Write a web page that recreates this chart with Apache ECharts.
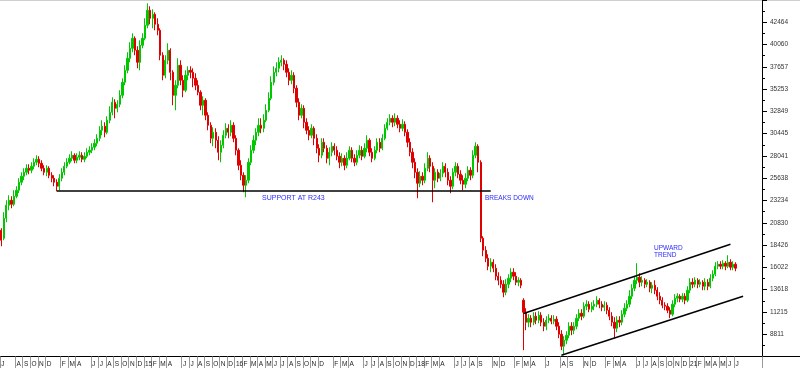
<!DOCTYPE html>
<html><head><meta charset="utf-8">
<script src="https://cdn.jsdelivr.net/npm/echarts@6/dist/echarts.min.js"></script>
<style>html,body{margin:0;padding:0;background:#fff}#c{width:800px;height:368px}</style>
</head><body><div id="c"></div>
<script>
// Month labels, Jun 2013 .. Jul 2021 ('' = month not labelled on the axis)
const monthLabels = [
 'J','','A','S','O','N','D',
 '','F','M','A','','J','J','A','S','O','N','D',
 '15','F','M','A','','J','J','A','S','O','N','D',
 '16','F','M','A','M','J','J','A','S','O','N','D',
 '','F','M','A','','J','J','A','S','O','N','D',
 '18','F','M','A','','J','J','A','S','','N','D',
 '','F','M','A','','J','','A','S','','N','D',
 '','F','M','A','','J','J','A','S','O','N','D',
 '21','F','M','A','M','J','J'
];
const yTickLabels = [8811,11215,13618,16022,18426,20830,23234,25638,28041,30445,32849,35253,37657,40060,42464];

// candles: [open, close, low, high] (cents), three per month
const c2013 = [[20029,18951,18303,20244],[19165,21323,18951,21971],[21323,22725,20892,23265],[22725,23265,22187,23804],[23265,22833,22401,23696],[22833,23696,22617,24344],[23696,24344,23480,24774],[24344,25206,24020,25637],[25206,25853,24882,26285],[25853,26285,25422,26715],[26285,26715,25961,27147],[26715,26501,26069,27147],[26501,26931,26177,27363],[26931,27363,26607,27794],[27363,27686,27039,28118],[27686,27255,26823,28010],[27255,26715,26393,27579],[26715,26285,25961,27039],[26285,26715,25853,27039],[26715,25961,25637,26931],[25961,25637,25206,26285]];
const c2014 = [[25637,25206,24774,25961],[25206,24774,24236,25529],[24774,25637,24344,26069],[25637,26285,25314,26715],[26285,26931,25961,27363],[26931,27363,26715,27794],[27363,27794,27147,28226],[27794,28118,27471,28550],[28118,27579,27255,28334],[27579,27902,27255,28334],[27902,28118,27579,28550],[28118,27686,27363,28442],[27686,28010,27363,28442],[28010,28442,27794,28873],[28442,28658,28118,29089],[28658,28981,28334,29413],[28981,29413,28658,29843],[29413,29951,29089,30383],[29951,30815,29629,31246],[30815,31246,30275,31894],[31246,30599,30059,31678],[30599,31894,30383,32324],[31894,32756,31570,33403],[32756,33835,32432,34374],[33835,33187,32108,34158],[33187,33619,32756,34051],[33619,34590,33295,35130],[34590,35992,34266,36423],[35992,37287,35668,37825],[37287,38580,36963,39228],[38580,39659,38149,40307],[39659,40737,39228,41277],[40737,39444,38904,40953],[39444,38149,37501,39875],[38149,39983,37287,40523],[39983,40737,39659,41277]];
const c2015 = [[40737,42140,40523,42894],[42140,43758,41816,44513],[43758,42894,42248,44189],[42894,43326,41816,43865],[43326,42248,41601,43542],[42248,41601,41061,42894],[41601,38904,38365,41816],[38904,36747,36208,39228],[36747,38365,36423,38904],[38365,39444,37933,40199],[39444,37071,36208,39659],[37071,34590,33511,37287],[34590,35668,32972,36208],[35668,37825,35344,38580],[37825,36208,35668,38365],[36208,35130,34374,36747],[35130,36747,34914,37287],[36747,37287,36208,37717],[37287,37071,36423,37717],[37071,36423,35452,37501],[36423,35668,35130,36963],[35668,34914,34590,36208],[34914,33511,32972,35130],[33511,34051,32432,34482],[34051,32432,31894,34266],[32432,31354,30815,32756],[31354,29951,29413,31678],[29951,30599,29089,31138],[30599,29737,28873,31030],[29737,28442,27579,30167],[28442,29197,27363,29737],[29197,30275,28873,30815],[30275,31030,29951,31570],[31030,30599,29951,31462],[30599,31354,30167,31894],[31354,29951,29521,31678]];
const c2016 = [[29951,28658,28118,30275],[28658,27039,26501,28873],[27039,25961,25422,27579],[25961,24882,24128,26285],[24882,25422,23588,25961],[25422,27363,25098,27794],[27363,28658,27039,29197],[28658,29737,28334,30275],[29737,30599,29197,31030],[30599,31354,30167,32108],[31354,31030,30491,32108],[31030,31894,30599,32540],[31894,32972,31678,33619],[32972,34266,32756,34914],[34266,35992,34051,36639],[35992,37071,35668,37717],[37071,37501,36639,38149],[37501,38149,37071,38688],[38149,38365,37717,38904],[38365,37933,37287,38580],[37933,37071,36531,38365],[37071,36208,35668,37501],[36208,36747,35776,37287],[36747,35344,34806,37071],[35344,33835,33295,35668],[33835,32432,31894,34266],[32432,33187,32108,33619],[33187,31678,31030,33511],[31678,30815,30383,32108],[30815,30275,29737,31246],[30275,31030,29951,31462],[31030,29951,29197,31246],[29951,28873,28334,30383],[28873,28118,27363,29305],[28118,29521,27794,29951],[29521,28873,28442,29951]];
const c2017 = [[28873,27794,27255,29197],[27794,28442,27039,28981],[28442,29089,28010,29521],[29089,28658,28118,29413],[28658,28010,27579,29089],[28010,27363,26715,28442],[27363,27794,26931,28334],[27794,27039,26501,28118],[27039,27794,26715,28442],[27794,28658,27579,29089],[28658,27794,27363,28981],[27794,27363,26931,28226],[27363,28118,27039,28658],[28118,28658,27794,29197],[28658,28010,27579,29089],[28010,28873,27794,29413],[28873,29737,28442,30275],[29737,28442,28010,29951],[28442,27794,27363,28873],[27794,28658,27579,29089],[28658,29521,28334,29951],[29521,28873,28442,29951],[28873,29951,28658,30383],[29951,31030,29737,31462],[31030,31678,30815,32108],[31678,32108,31354,32540],[32108,31678,31138,32432],[31678,32108,31246,32648],[32108,31462,31030,32432],[31462,31030,30599,31894],[31030,31462,30707,32000],[31462,30599,30167,31786],[30599,29521,28981,30922],[29521,28442,28010,29951],[28442,27363,26715,28873],[27363,26285,25637,27794]];
const c2018 = [[26285,25098,23480,26715],[25098,25853,24666,26393],[25853,25422,24882,26285],[25422,26715,25098,27255],[26715,27794,26393,28442],[27794,26931,26285,28118],[26931,25422,23049,27363],[25422,26285,24558,26715],[26285,25637,25206,26607],[25637,26177,25314,26607],[26177,26931,25745,27363],[26931,26285,25745,27255],[26285,25422,24882,26715],[25422,24774,24020,25853],[24774,26285,24450,26715],[26285,26931,25853,27363],[26931,26069,25637,27255],[26069,25422,24990,26501],[25422,24990,24344,25961],[24990,25637,24558,26177],[25637,26501,25314,26931],[26501,25961,25422,26823],[25961,28118,25637,28658],[28118,29089,27794,29521],[29089,27363,26285,29305],[27363,19167,18735,27579],[19167,17872,17224,19381],[17872,17008,16578,18303],[17008,16146,15715,17440],[16146,16578,15499,17008],[16578,15930,15499,16900],[15930,15067,14636,16362],[15067,14636,14096,15499],[14636,14204,13772,15067],[14204,13342,12802,14636],[13342,14204,13018,14743]];
const c2019 = [[14204,14851,13772,15283],[14851,15499,14420,15930],[15499,15067,14636,15930],[15067,14420,14096,15499],[14420,14636,13988,14959],[14636,14096,13772,14851],[12479,11185,7086,12694],[11185,10106,9243,11615],[10106,10537,9566,10969],[10537,10106,9566,10861],[10106,10753,9782,11185],[10753,10322,9890,11185],[10322,10861,9998,11293],[10861,10106,9674,11185],[10106,9674,9135,10537],[9674,10322,9243,10753],[10322,10537,9998,10969],[10537,10214,9890,10861],[10214,10429,9890,10861],[10429,9674,9243,10753],[9674,8811,8379,10106],[8811,7517,7086,9243],[7517,8165,6547,8595],[8165,8703,7733,9135],[8703,9674,8379,10106],[9674,9243,8703,10106],[9243,9674,8811,10106],[9674,10537,9350,10969],[10537,11077,10214,11508],[11077,10753,10322,11508],[10753,11831,10537,12263],[11831,12047,11401,12479],[12047,11508,11185,12371],[11508,11831,11185,12263],[11831,12047,11401,12479],[12047,12479,11723,12910]];
const c2020 = [[12479,12047,11615,12694],[12047,11723,11293,12371],[11723,11939,11293,12371],[11939,11401,10969,12263],[11401,10753,10322,11723],[10753,10106,9674,11185],[10106,9458,8379,10645],[9458,10322,9027,10753],[10322,10106,9566,10753],[10106,10969,9782,11401],[10969,11615,10645,12155],[11615,12047,11293,12479],[12047,12910,11723,13558],[12910,13772,12586,14204],[13772,14636,13450,15067],[14636,14959,14204,16470],[14959,14420,13880,15391],[14420,14636,13988,15067],[14636,14204,13772,14851],[14204,14420,13880,14743],[14420,13772,13342,14636],[13772,14096,13234,14420],[14096,13558,13126,14636],[13558,12910,12479,13880],[12910,12479,12047,13342],[12479,11939,11615,12802],[11939,11831,11401,12263],[11831,11401,11077,12155],[11401,10969,10537,11723],[10969,12047,10753,12479],[12047,12694,11723,13126],[12694,12910,12263,13234],[12910,12586,12263,13126],[12586,12910,12263,13234],[12910,12479,12047,13234],[12479,13558,12263,13988]];
const c2021 = [[13558,14420,13234,14851],[14420,14204,13772,14851],[14204,14636,13880,14959],[14636,14204,13772,14851],[14204,14420,13880,14743],[14420,13988,13558,14636],[13988,14420,13558,14851],[14420,13988,13558,14743],[13988,14851,13772,15283],[14851,15283,14528,15715],[15283,16146,15067,16578],[16146,16362,15822,16686],[16362,16146,15822,16686],[16146,16470,15822,16794],[16470,16146,15715,16686],[16146,16578,15930,17333],[16578,16038,15715,16900],[16038,16362,15715,16686],[16362,15930,15607,16578]];

// drawn trend lines: [categoryIndex, price] end points
const supportLine = [[22,24300],[194,24300]];
const channelUpper = [[207,11044],[289,18519]];
const channelLower = [[222,6547],[294,12910]];

const SLOTS = 3, PAD = 8;
const categories = [];
monthLabels.forEach((_, m) => { for (let s = 0; s < SLOTS; s++) categories.push(m + '-' + s); });
for (let k = 0; k < PAD; k++) categories.push('pad' + k);
const ohlc = [].concat(c2013, c2014, c2015, c2016, c2017, c2018, c2019, c2020, c2021);

const yStep = (yTickLabels[yTickLabels.length - 1] - yTickLabels[0]) / (yTickLabels.length - 1);
const yMin = yTickLabels[0] - yStep;
const yMax = yMin + (yTickLabels.length + 1) * yStep;

const monthOf = v => { const p = String(v).split('-'); return p.length === 2 ? +p[0] : -1; };
const isLabelled = (idx) => idx % SLOTS === 0 && idx < monthLabels.length * SLOTS && monthLabels[idx / SLOTS] !== '';
const FONT = '"Liberation Sans", Arial, sans-serif';
const seg = s => [{ coord: [categories[s[0][0]], s[0][1]] }, { coord: [categories[s[1][0]], s[1][1]] }];

const chart = echarts.init(document.getElementById('c'), null, { renderer: 'canvas' });
chart.setOption({
  animation: false,
  backgroundColor: '#fff',
  grid: { left: 0, right: 38, top: 0, height: 356.5, containLabel: false, outerBoundsMode: 'none' },
  xAxis: {
    type: 'category', data: categories, boundaryGap: true,
    axisLine: { show: true, lineStyle: { color: '#000', width: 1 } },
    axisTick: { show: true, interval: (i) => isLabelled(i), length: 12, lineStyle: { color: '#999', width: 1 } },
    axisLabel: { interval: (i) => isLabelled(i), formatter: v => { const m = monthOf(v); return m >= 0 ? monthLabels[m] : ''; },
      fontSize: 6.5, color: '#222', fontFamily: FONT, align: 'left', margin: 4 },
    splitLine: { show: false }
  },
  yAxis: {
    type: 'value', position: 'right', min: yMin, max: yMax, interval: yStep,
    axisLine: { show: true, lineStyle: { color: '#000', width: 1 } },
    axisTick: { show: true, length: 5, lineStyle: { color: '#000' } },
    minorTick: { show: true, splitNumber: 2, length: 3, lineStyle: { color: '#000' } },
    splitLine: { show: false }, minorSplitLine: { show: false },
    axisLabel: { fontSize: 6.5, color: '#333', fontFamily: FONT, margin: 8,
      formatter: v => { const t = yTickLabels.find(t => Math.abs(t - v) < 2); return t === undefined ? '' : String(t); } }
  },
  series: [{
    type: 'candlestick', data: ohlc, barWidth: 1.8,
    itemStyle: { color: '#00c800', color0: '#e00000', borderColor: '#00c800', borderColor0: '#e00000', borderWidth: 1 },
    markLine: {
      silent: true, symbol: ['none', 'none'], label: { show: false }, animation: false,
      lineStyle: { color: '#000', width: 1.5, type: 'solid' },
      emphasis: { disabled: true },
      data: [seg(supportLine), seg(channelUpper), seg(channelLower)]
    }
  }],
  graphic: [
    { type: 'line', shape: { x1: 0, y1: 0.5, x2: 800, y2: 0.5 }, style: { stroke: '#cfcfcf', lineWidth: 1 } },
    { type: 'line', shape: { x1: 762, y1: 356.5, x2: 800, y2: 356.5 }, style: { stroke: '#000', lineWidth: 1 } },
    { type: 'text', x: 262, y: 198, style: { text: 'SUPPORT AT R243', fill: '#2b2bff', font: '7px ' + FONT, verticalAlign: 'middle' } },
    { type: 'text', x: 485, y: 198.5, style: { text: 'BREAKS DOWN', fill: '#2b2bff', font: '6.5px ' + FONT, verticalAlign: 'middle' } },
    { type: 'text', x: 654, y: 248, style: { text: 'UPWARD', fill: '#2b2bff', font: '6.5px ' + FONT, verticalAlign: 'middle' } },
    { type: 'text', x: 654, y: 255.5, style: { text: 'TREND', fill: '#2b2bff', font: '6.5px ' + FONT, verticalAlign: 'middle' } }
  ]
});
</script></body></html>
